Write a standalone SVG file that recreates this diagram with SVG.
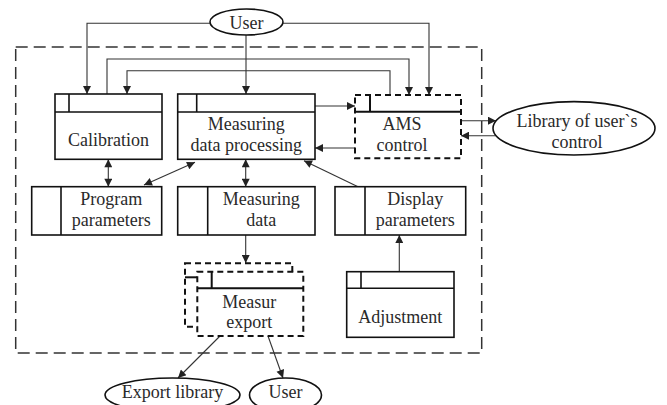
<svg xmlns="http://www.w3.org/2000/svg" width="667" height="405" viewBox="0 0 667 405">
  <style>
    .box { fill: #fff; stroke: #111; stroke-width: 1.6; }
    .sep { fill: none; stroke: #111; stroke-width: 1.6; }
    .dbox { fill: #fff; stroke: #111; stroke-width: 2; stroke-dasharray: 6 4; }
    .ell { fill: #fff; stroke: #111; stroke-width: 1.6; }
    .frame { fill: none; stroke: #333; stroke-width: 1.5; stroke-dasharray: 12 6; }
    .con { fill: none; stroke: #333; stroke-width: 1.1; }
    .arr { marker-end: url(#ah); }
    .both { marker-start: url(#ah); marker-end: url(#ah); }
    text { font-family: 'Liberation Serif', 'Times New Roman', serif; font-size: 18px; fill: #2a2a2a; text-anchor: middle; }
  </style>
  <defs>
    <marker id="ah" viewBox="0 0 10 10" refX="10" refY="5" markerWidth="9" markerHeight="8" markerUnits="userSpaceOnUse" orient="auto-start-reverse">
      <path d="M0,0 L10,5 L0,10 Z" fill="#222"/>
    </marker>
  </defs>

  <!-- system boundary -->
  <rect class="frame" x="15.7" y="47" width="466" height="306"/>

  <g id="connectors">
    <path class="con arr" d="M210,23.3 H87 V94"/>
    <path class="con arr" d="M246,35 V94"/>
    <path class="con arr" d="M283,23.3 H429 V95"/>
    <path class="con arr" d="M107,94 V59 H409 V95"/>
    <path class="con arr" d="M390,95 V70.7 H127 V94"/>
    <path class="con arr" d="M315,106 H355"/>
    <path class="con arr" d="M355,148 H315"/>
    <path class="con arr" d="M461,120.7 H496"/>
    <path class="con arr" d="M496,135.7 H461"/>
    <path class="con both" d="M108.3,159.3 V186.7"/>
    <path class="con both" d="M195,162.3 L144,185"/>
    <path class="con both" d="M245.7,159.3 V186.7"/>
    <path class="con arr" d="M358,186.7 L304,160.7"/>
    <path class="con arr" d="M399.3,271.7 V235"/>
    <path class="con arr" d="M245.7,235 V263"/>
    <path class="con arr" d="M220,336 L178,378"/>
    <path class="con arr" d="M268,336 L283,378"/>
  </g>

  <g id="user-top">
    <ellipse class="ell" cx="246.5" cy="22" rx="36.5" ry="13"/>
    <text x="246.5" y="28.5">User</text>
  </g>

  <g id="calibration">
    <rect class="box" x="55" y="94" width="107" height="65.3"/>
    <path class="sep" d="M55,112 H162 M69,94 V112"/>
    <text x="108.5" y="145.5">Calibration</text>
  </g>

  <g id="measuring-data-processing">
    <rect class="box" x="177.7" y="94" width="137.3" height="65.3"/>
    <path class="sep" d="M177.7,112 H315 M196.7,94 V112"/>
    <text x="246.3" y="130">Measuring</text>
    <text x="246.3" y="151">data processing</text>
  </g>

  <g id="ams-control">
    <rect class="dbox" x="355" y="95" width="106" height="63.3"/>
    <path class="sep" d="M355,111.7 H461 M370,95 V111.7" style="stroke-width:2"/>
    <text x="402" y="130">AMS</text>
    <text x="402" y="150.7">control</text>
  </g>

  <g id="library-user-control">
    <ellipse class="ell" cx="574" cy="128.3" rx="81" ry="26.7"/>
    <text x="577" y="126.7">Library of user`s</text>
    <text x="577" y="148.3">control</text>
  </g>

  <g id="program-parameters">
    <rect class="box" x="31.7" y="186.7" width="130" height="48.3"/>
    <path class="sep" d="M61,186.7 V235"/>
    <text x="111.3" y="205">Program</text>
    <text x="111.3" y="225.7">parameters</text>
  </g>

  <g id="measuring-data">
    <rect class="box" x="177.7" y="186.7" width="137.3" height="48.3"/>
    <path class="sep" d="M207.7,186.7 V235"/>
    <text x="261.3" y="205">Measuring</text>
    <text x="261.3" y="225.7">data</text>
  </g>

  <g id="display-parameters">
    <rect class="box" x="335" y="186.7" width="130.7" height="48.3"/>
    <path class="sep" d="M365,186.7 V235"/>
    <text x="415.3" y="205">Display</text>
    <text x="415.3" y="225.7">parameters</text>
  </g>

  <g id="adjustment">
    <rect class="box" x="346.7" y="271.7" width="107.3" height="65.6"/>
    <path class="sep" d="M346.7,288.3 H454 M361,271.7 V288.3"/>
    <text x="400.3" y="322.7">Adjustment</text>
  </g>

  <g id="measur-export">
    <rect class="dbox" x="185" y="263.3" width="107.3" height="63.4"/>
    <path class="sep" d="M185,277.3 H197.3" style="stroke-width:2"/>
    <rect class="dbox" x="197.3" y="271.7" width="106" height="64.3"/>
    <path class="sep" d="M197.3,288.3 H303.3 M211.7,271.7 V288.3" style="stroke-width:2"/>
    <text x="249.3" y="308.3">Measur</text>
    <text x="249.3" y="328">export</text>
  </g>

  <g id="export-library">
    <ellipse class="ell" cx="172.5" cy="395" rx="67.5" ry="17"/>
    <text x="172.5" y="397.5">Export library</text>
  </g>

  <g id="user-bottom">
    <ellipse class="ell" cx="285.5" cy="395" rx="36" ry="17"/>
    <text x="285.5" y="397.5">User</text>
  </g>
</svg>
